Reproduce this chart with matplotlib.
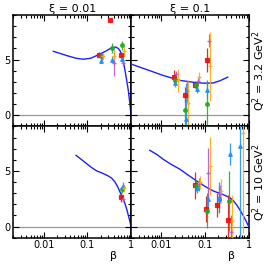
import matplotlib
matplotlib.use("Agg")
import matplotlib.pyplot as plt
from matplotlib.ticker import LogLocator, NullFormatter, MultipleLocator

# ---------------- data ----------------
xi_titles = ["ξ = 0.01", "ξ = 0.1"]
q2_labels = ["Q$^2$ = 3.2 GeV$^2$", "Q$^2$ = 10 GeV$^2$"]

# model curves (beta, value) per panel: TL, TR, BL, BR
curve_tl_b = [0.0166, 0.0336, 0.055, 0.0805, 0.12, 0.163, 0.22, 0.277, 0.33, 0.39, 0.45, 0.51, 0.56, 0.61, 0.67, 0.73, 0.8, 0.87, 0.94, 1.0]
curve_tl_v = [5.74, 5.36, 5.12, 5.03, 5.12, 5.36, 5.6, 5.8, 5.98, 6.1, 6.12, 6.0, 5.8, 5.45, 4.8, 4.0, 3.1, 2.2, 1.1, 0.0]
curve_tr_b = [0.002, 0.0046, 0.011, 0.0265, 0.064, 0.10, 0.154, 0.22, 0.33]
curve_tr_v = [4.6, 4.1, 3.57, 3.13, 2.92, 2.88, 2.9, 3.1, 3.42]
curve_bl_b = [0.055, 0.08, 0.12, 0.163, 0.22, 0.3, 0.36, 0.43, 0.5, 0.56, 0.61, 0.67, 0.73, 0.8, 0.87, 0.94, 1.0]
curve_bl_v = [6.4, 5.9, 5.35, 5.0, 4.8, 4.55, 4.35, 4.0, 3.55, 3.1, 2.8, 2.45, 2.05, 1.55, 1.0, 0.5, 0.0]
curve_br_b = [0.0054, 0.008, 0.011, 0.0165, 0.0265, 0.04, 0.064, 0.1, 0.154, 0.25, 0.37, 0.45, 0.53, 0.63, 0.75, 0.87, 1.0]
curve_br_v = [6.85, 6.45, 6.04, 5.6, 5.15, 4.65, 4.1, 3.6, 3.2, 2.9, 2.6, 2.3, 1.94, 1.5, 0.98, 0.5, 0.0]

# data sets: red, green, blue, purple, orange  (beta, value, error) per panel
# top-left
tl_red_b = [0.185, 0.33, 0.59];  tl_red_v = [5.45, 8.6, 5.4];   tl_red_e = [0.25, 0.15, 0.3]
tl_grn_b = [0.205, 0.36, 0.61];  tl_grn_v = [5.35, 6.0, 6.3];   tl_grn_e = [0.25, 0.45, 0.4]
tl_blu_b = [0.205, 0.36, 0.61];  tl_blu_v = [4.9, 5.0, 5.05];   tl_blu_e = [0.2, 0.3, 0.3]
tl_pur_b = [0.215, 0.40, 0.655]; tl_pur_v = [5.3, 4.7, 4.7];    tl_pur_e = [0.3, 1.2, 0.3]
tl_org_b = [0.23, 0.41, 0.70];   tl_org_v = [5.3, 5.35, 5.75];  tl_org_e = [0.3, 0.4, 0.5]
# top-right
tr_red_b = [0.019, 0.0346, 0.059, 0.109]; tr_red_v = [3.48, 1.85, 2.74, 4.97]; tr_red_e = [0.55, 0.7, 0.3, 1.1]
tr_grn_b = [0.020, 0.0346, 0.062, 0.112]; tr_grn_v = [3.18, 0.5, 2.68, 1.04];  tr_grn_e = [0.3, 1.6, 0.3, 2.1]
tr_blu_b = [0.020, 0.036, 0.066, 0.112];  tr_blu_v = [2.9, -0.3, 2.38, 2.3];   tr_blu_e = [0.4, 3.2, 0.4, 0.8]
tr_pur_b = [0.021, 0.0377, 0.068, 0.123]; tr_pur_v = [3.66, 2.2, 3.04, 6.7];   tr_pur_e = [0.3, 1.0, 0.3, 0.6]
tr_org_b = [0.0235, 0.041, 0.073, 0.13];  tr_org_v = [3.13, 1.1, 3.48, 4.4];   tr_org_e = [1.0, 1.95, 0.4, 3.1]
# bottom-left
bl_red_b = [0.58];  bl_red_v = [2.68]; bl_red_e = [0.45]
bl_grn_b = [0.61];  bl_grn_v = [3.36]; bl_grn_e = [0.3]
bl_blu_b = [0.645]; bl_blu_v = [3.66]; bl_blu_e = [0.3]
bl_pur_b = [0.665]; bl_pur_v = [2.47]; bl_pur_e = [0.3]
bl_org_b = [0.69];  bl_org_v = [3.45]; bl_org_e = [0.3]
# bottom-right
br_red_b = [0.059, 0.105, 0.19, 0.34];        br_red_v = [3.7, 1.58, 1.96, 0.6];        br_red_e = [1.2, 1.2, 1.1, 2.2]
br_grn_b = [0.062, 0.112, 0.205, 0.36];       br_grn_v = [3.66, 1.43, 2.47, 2.3];       br_grn_e = [0.5, 1.6, 1.2, 2.7]
br_blu_b = [0.065, 0.115, 0.212, 0.372, 0.63]; br_blu_v = [3.5, 2.47, 2.6, 6.5, 7.2];   br_blu_e = [0.5, 1.0, 1.4, 1.0, 9.0]
br_pur_b = [0.071, 0.118, 0.216, 0.39];       br_pur_v = [3.8, 4.85, 2.9, -0.5];        br_pur_e = [0.6, 2.2, 0.8, 1.5]
br_org_b = [0.076, 0.13, 0.228, 0.42, 0.73];  br_org_v = [3.96, 5.45, 3.2, 0.54, 8.4];  br_org_e = [0.6, 2.6, 1.1, 2.3, 9.0]

# ---------------- styles ----------------
colors = ["#ee1111", "#22aa22", "#1e90ff", "#b35ad6", "#ffaa11"]
markers = ["s", "o", "^", "+", "+"]

plt.rcParams["font.family"] = ["DejaVu Sans"]
plt.rcParams["font.size"] = 7

fig, axes = plt.subplots(2, 2, figsize=(2.69, 2.64), dpi=100, sharex=True, sharey=True)
fig.subplots_adjust(left=0.0494, right=0.9245, top=0.943, bottom=0.0996, wspace=0, hspace=0)

curves = [[(curve_tl_b, curve_tl_v), (curve_tr_b, curve_tr_v)],
          [(curve_bl_b, curve_bl_v), (curve_br_b, curve_br_v)]]
datasets = [
    [[(tl_red_b, tl_red_v, tl_red_e), (tl_grn_b, tl_grn_v, tl_grn_e), (tl_blu_b, tl_blu_v, tl_blu_e),
      (tl_pur_b, tl_pur_v, tl_pur_e), (tl_org_b, tl_org_v, tl_org_e)],
     [(tr_red_b, tr_red_v, tr_red_e), (tr_grn_b, tr_grn_v, tr_grn_e), (tr_blu_b, tr_blu_v, tr_blu_e),
      (tr_pur_b, tr_pur_v, tr_pur_e), (tr_org_b, tr_org_v, tr_org_e)]],
    [[(bl_red_b, bl_red_v, bl_red_e), (bl_grn_b, bl_grn_v, bl_grn_e), (bl_blu_b, bl_blu_v, bl_blu_e),
      (bl_pur_b, bl_pur_v, bl_pur_e), (bl_org_b, bl_org_v, bl_org_e)],
     [(br_red_b, br_red_v, br_red_e), (br_grn_b, br_grn_v, br_grn_e), (br_blu_b, br_blu_v, br_blu_e),
      (br_pur_b, br_pur_v, br_pur_e), (br_org_b, br_org_v, br_org_e)]],
]

for r in range(2):
    for c in range(2):
        ax = axes[r][c]
        ax.set_xscale("log")
        ax.set_xlim(0.002, 1)
        ax.set_ylim(-1, 9)
        ax.axhline(0, color="#999999", lw=0.9, zorder=1)
        cb, cv = curves[r][c]
        ax.plot(cb, cv, color="#1f1fff", lw=1.0, zorder=3)
        for (b, v, e), col, mk in zip(datasets[r][c], colors, markers):
            ax.errorbar(b, v, yerr=e, fmt=mk, color=col, ecolor=col, elinewidth=0.9,
                        markersize=2.6, mew=0.9, capsize=0, alpha=0.9, zorder=4)
        for s in ax.spines.values():
            s.set_linewidth(1.1)
        ax.set_xticks([0.01, 0.1, 1], ["0.01", "0.1", "1"])
        ax.xaxis.set_minor_locator(LogLocator(base=10, subs=range(2, 10), numticks=20))
        ax.xaxis.set_minor_formatter(NullFormatter())
        ax.set_yticks([0, 5], ["0", "5"])
        ax.yaxis.set_minor_locator(MultipleLocator(1))
        ax.tick_params(which="both", direction="in", top=True, right=True, width=0.8,
                       labelsize=7, pad=2)
        ax.tick_params(which="major", length=4)
        ax.tick_params(which="minor", length=2.5)
        if r == 0:
            ax.set_title(xi_titles[c], fontsize=8, pad=2.5)
        if r == 1:
            ax.set_xlabel("β", fontsize=8)
            ax.xaxis.set_label_coords(0.85, -0.115)
        if c == 1:
            ax.text(1.09, 0.5, q2_labels[r], rotation=90, transform=ax.transAxes,
                    ha="center", va="center", fontsize=8)

fig.savefig("out.png", dpi=100)
